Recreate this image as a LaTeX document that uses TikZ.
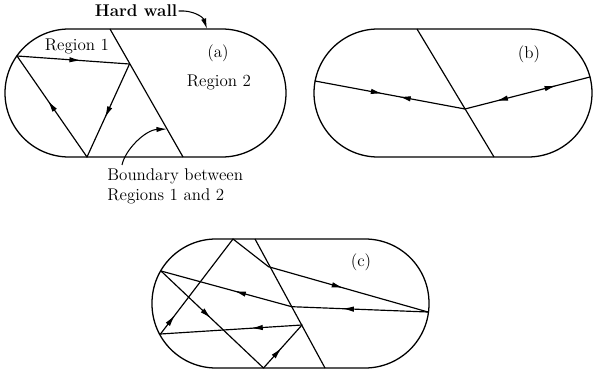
\documentclass[tikz,border=0pt]{standalone}
\usepackage{tikz}
\usetikzlibrary{arrows.meta,decorations.markings,calc}

\begin{document}
\begin{tikzpicture}[
    x=0.03cm, y=-0.03cm,
    font=\fontsize{14.5}{17}\selectfont,
    wall/.style={line width=1.1pt, rounded corners=1.92cm},
    bound/.style={line width=1pt},
    ray/.style={line width=1pt, line cap=round},
    tip/.style={-{Latex[length=9pt,width=4.5pt]}, line width=0.9pt},
    midarr/.style={postaction={decorate, decoration={markings, mark=at position #1 with {\arrow{Latex[length=10pt,width=4.6pt]}}}}},
    backarr/.style={postaction={decorate, decoration={markings, mark=at position #1 with {\arrowreversed{Latex[length=10pt,width=4.6pt]}}}}},
    label/.style={inner sep=1pt}
]
\useasboundingbox (0,0) rectangle (593,372);

% (a): orbit kept in Region 1
\draw[wall] (5,29) rectangle (286,157);
\coordinate (aTop) at (110,29);
\coordinate (aBot) at (183,157);
\draw[bound] (aTop) -- (aBot);
\coordinate (aL) at (17,56);
\coordinate (aB) at (129.5,64);
\coordinate (aF) at (87,157);
\draw[ray, midarr=0.57] (aL) -- (aB);
\draw[ray, midarr=0.58] (aB) -- (aF);
\draw[ray, midarr=0.56] (aF) -- (aL);

\node[label] (reg1) at (77,46) {Region 1};
\node[label] (capa) at (218,53) {(a)};
\node[label] (reg2) at (219,82) {Region 2};

% Labels with pointers
\node[label] (hw) at (136,11) {\textbf{Hard wall}};
\coordinate (aHit) at (207,29);
\draw[tip] (hw.east) .. controls (193,10) and (203,17) .. (aHit);

\node[label, align=left, anchor=west] (bnd) at (106,186) {Boundary between\\Regions 1 and 2};
\coordinate (bndFoot) at (122,165);
\coordinate (aHit2) at (167,129);
\draw[tip] (bndFoot) .. controls (125,150) and (145,130) .. (aHit2);

% (b): orbit crossing the boundary
\draw[wall] (314,29) rectangle (592,157);
\coordinate (bTop) at (417,29);
\coordinate (bBot) at (494,157);
\draw[bound] (bTop) -- (bBot);
\coordinate (bL) at (315,81);
\coordinate (bV) at (465,109);
\coordinate (bR) at (590,77);
\draw[ray, midarr=0.45, backarr=0.56] (bL) -- (bV);
\draw[ray, backarr=0.25, midarr=0.73] (bV) -- (bR);
\node[label] (capb) at (529,54) {(b)};

% (c): longer orbit
\draw[wall] (152,239) rectangle (429,368);
\coordinate (cTop) at (255,239);
\coordinate (cBot) at (325,368);
\draw[bound] (cTop) -- (cBot);
\coordinate (cA) at (233,239);
\coordinate (cB) at (268.5,266.7);
\coordinate (cC) at (428,312);
\coordinate (cD) at (291.7,306.7);
\coordinate (cE) at (161,271);
\coordinate (cF) at (263.5,368);
\coordinate (cG) at (302,325);
\coordinate (cH) at (160.5,334);
\draw[ray, midarr=0.2] (cH) -- (cA);
\draw[ray] (cA) -- (cB);
\draw[ray, midarr=0.47] (cB) -- (cC);
\draw[ray, midarr=0.63] (cC) -- (cD);
\draw[ray, midarr=0.44] (cD) -- (cE);
\draw[ray, midarr=0.49] (cE) -- (cF);
\draw[ray, midarr=0.47] (cF) -- (cG);
\draw[ray, midarr=0.36] (cG) -- (cH);
\node[label] (capc) at (361,262) {(c)};

\end{tikzpicture}
\end{document}
